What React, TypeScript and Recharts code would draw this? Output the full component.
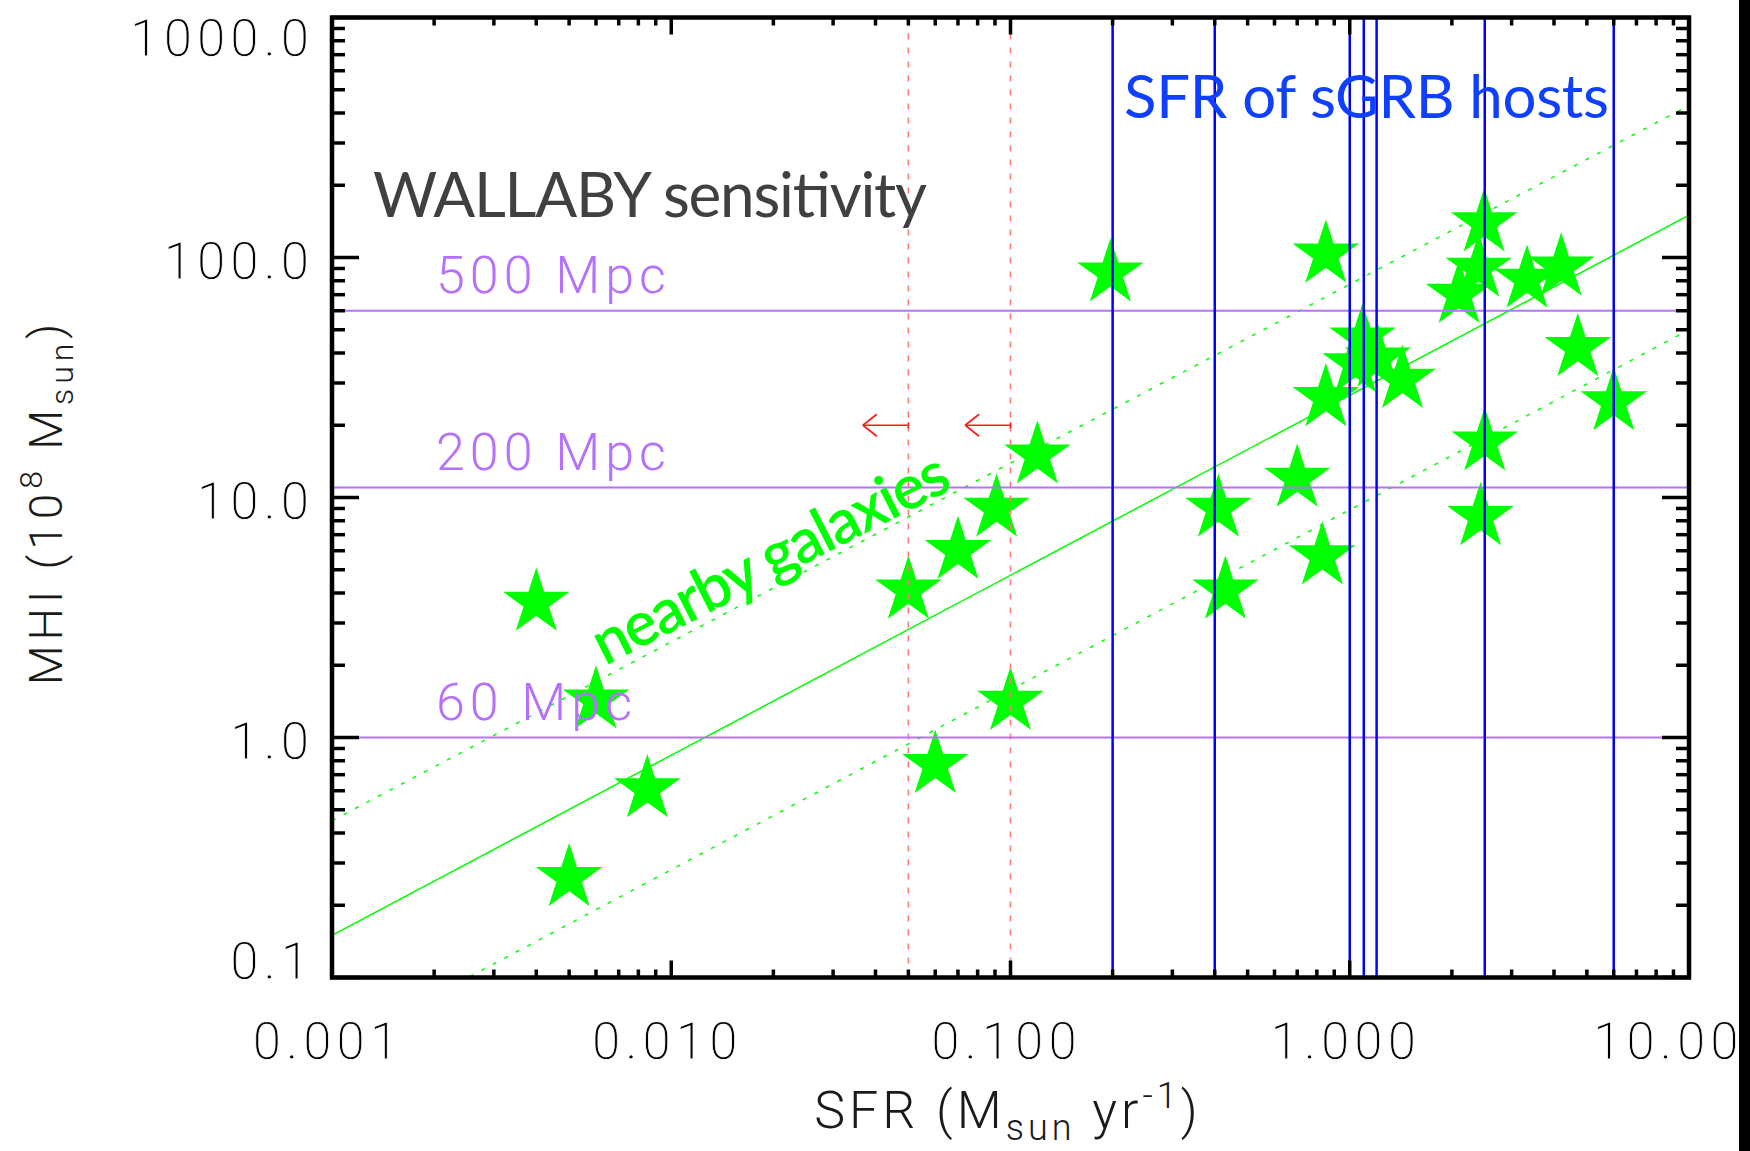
import React from "react";
import { ScatterChart, Scatter, XAxis, YAxis, ReferenceLine } from "recharts";

const W = 1750;
const H = 1151;
const PLOT_LEFT = 332;
const PLOT_TOP = 17.5;
const PLOT_RIGHT = 1689;
const PLOT_BOTTOM = 977.5;
const PLOT_W = PLOT_RIGHT - PLOT_LEFT;
const PLOT_H = PLOT_BOTTOM - PLOT_TOP;

// axes
const xMajor = [0.001, 0.01, 0.1, 1, 10];
const xTickLabels = ["0.001", "0.010", "0.100", "1.000", "10.000"];
const yMajor = [0.1, 1, 10, 100, 1000];
const yTickLabels = ["0.1", "1.0", "10.0", "100.0", "1000.0"];

// nearby galaxies (SFR in Msun/yr, MHI in 1e8 Msun)
const galaxySfr = [
  0.004, 0.006, 0.0085, 0.005, 0.05, 0.07, 0.091, 0.12, 0.1, 0.06,
  0.197, 0.41, 0.43, 0.7, 0.83, 0.85, 0.85, 1.09, 1.04, 1.21,
  1.43, 2.1, 2.4, 2.49, 3.33, 4.2, 4.7, 6.0, 2.5, 2.43,
];
const galaxyMhi = [
  3.65, 1.43, 0.61, 0.26, 4.1, 6.0, 9.0, 15.0, 1.41, 0.77,
  86, 9.0, 4.1, 12.0, 5.7, 26, 103, 46, 36, 38,
  31, 70, 90, 139, 81, 91, 42, 25, 17, 8.3,
];

// SFR of short GRB hosts
const sgrbHostSfr = [0.2, 0.4, 1.0, 1.1, 1.2, 2.5, 6.0];

// WALLABY sensitivity limits
const sensitivityMhi = [60, 11, 1.0];
const sensitivityLabels = ["500 Mpc", "200 Mpc", "60 Mpc"];

// upper limits
const limitSfr = [0.05, 0.1];
const limitArrowTip = [0.0367, 0.0735];
const limitArrowMhi = 20;

// scaling relation and its scatter
const fitSfr = [0.001, 10];
const fitMid = [0.15, 150];
const fitUpper = [0.45, 430];
const fitLower = [0.05, 50];

const decadeTicks = (major: number[]) => {
  const out: number[] = [];
  for (let i = 0; i < major.length - 1; i++) {
    for (let k = 1; k <= 9; k++) out.push(k * major[i]);
  }
  out.push(major[major.length - 1]);
  return out;
};

const majorIndex = (major: number[], v: number) =>
  major.findIndex((m) => Math.abs(Math.log10(m) - Math.log10(v)) < 1e-6);

const TICK_FONT = "Roboto, 'DejaVu Sans', sans-serif";
// thin the glyphs a little with a white outline painted over the fill
const thin = { stroke: "#fff", strokeWidth: 0.8 };

// bottom ticks, mirrored onto the top border
const XTick = (props: any) => {
  const { x, y, payload } = props;
  const i = majorIndex(xMajor, payload.value);
  const len = i >= 0 ? 17 : 8;
  return (
    <g>
      <line x1={x} y1={y} x2={x} y2={y - len} stroke="#000" strokeWidth={3.5} />
      <line x1={x} y1={y - PLOT_H} x2={x} y2={y - PLOT_H + len} stroke="#000" strokeWidth={3.5} />
      {i >= 0 && (
        <text x={x - 4} y={y + 81} textAnchor="middle" fontFamily={TICK_FONT} fontWeight={300}
          fontSize={51} letterSpacing={5} fill="#000" {...thin}>
          {xTickLabels[i]}
        </text>
      )}
    </g>
  );
};

// left ticks, mirrored onto the right border
const YTick = (props: any) => {
  const { x, y, payload } = props;
  const i = majorIndex(yMajor, payload.value);
  const len = i >= 0 ? 27 : 13;
  let dy = 21;
  if (i === yMajor.length - 1) dy = 38;
  if (i === 0) dy = 1;
  return (
    <g>
      <line x1={x} y1={y} x2={x + len} y2={y} stroke="#000" strokeWidth={3.5} />
      <line x1={x + PLOT_W - len} y1={y} x2={x + PLOT_W} y2={y} stroke="#000" strokeWidth={3.5} />
      {i >= 0 && (
        <text x={x - 18} y={y + dy} textAnchor="end" fontFamily={TICK_FONT} fontWeight={300}
          fontSize={51} letterSpacing={5} fill="#000" {...thin}>
          {yTickLabels[i]}
        </text>
      )}
    </g>
  );
};

const StarShape = (props: any) => {
  const { cx, cy } = props;
  if (cx == null || cy == null) return null;
  const R = 35;
  const r = R * 0.382;
  const pts: string[] = [];
  for (let k = 0; k < 10; k++) {
    const a = -Math.PI / 2 + (k * Math.PI) / 5;
    const rad = k % 2 === 0 ? R : r;
    pts.push(`${cx + rad * Math.cos(a)},${cy + rad * Math.sin(a)}`);
  }
  return <polygon points={pts.join(" ")} fill="#00ff00" />;
};

const ArrowShape = (props: any) => {
  const { x1, y1, x2, y2 } = props;
  if (x1 == null) return null;
  return (
    <g stroke="#ff1a1a" strokeWidth={1.6} fill="none">
      <line x1={x1} y1={y1} x2={x2} y2={y2} />
      <line x1={x1} y1={y1 - 3} x2={x1} y2={y1 + 3} />
      <line x1={x2} y1={y2} x2={x2 + 14} y2={y2 - 11} />
      <line x1={x2} y1={y2} x2={x2 + 14} y2={y2 + 11} />
    </g>
  );
};

const MpcLabel = (props: any) => {
  const vb = props.viewBox || { x: PLOT_LEFT, y: 0 };
  return (
    <text x={vb.x + 104} y={vb.y - 18} fontFamily={TICK_FONT} fontWeight={300} fontSize={52}
      letterSpacing={5} fill="#b570ff">
      {props.text}
    </text>
  );
};

const galaxies = galaxySfr.map((s, i) => ({ sfr: s, mhi: galaxyMhi[i] }));
const seg = (y: number[]) => [
  { x: fitSfr[0], y: y[0] },
  { x: fitSfr[1], y: y[1] },
];

export default function App() {
  return (
    <div style={{ position: "relative", width: W, height: H, background: "#fff", overflow: "hidden" }}>
      <style>{`html,body{margin:0;overflow:hidden}`}</style>
      <ScatterChart width={W} height={H}
        margin={{ top: PLOT_TOP, right: W - PLOT_RIGHT, bottom: H - PLOT_BOTTOM - 1, left: PLOT_LEFT - 1 }}>
        <XAxis dataKey="sfr" type="number" scale="log" domain={[0.001, 10]} allowDataOverflow
          ticks={decadeTicks(xMajor)} interval={0} height={1} tickSize={0} tickMargin={0}
          tickLine={false} axisLine={false} tick={<XTick />} />
        <YAxis dataKey="mhi" type="number" scale="log" domain={[0.1, 1000]} allowDataOverflow
          ticks={decadeTicks(yMajor)} interval={0} width={1} tickSize={0} tickMargin={0}
          tickLine={false} axisLine={false} tick={<YTick />} />
        <Scatter data={galaxies} isAnimationActive={false} shape={StarShape} />
        <ReferenceLine segment={seg(fitMid)} ifOverflow="hidden" stroke="#00ff00" strokeWidth={1.5} zIndex={700} />
        <ReferenceLine segment={seg(fitUpper)} ifOverflow="hidden" stroke="#00ff00" strokeWidth={1.5}
          strokeDasharray="4 9" zIndex={700} />
        <ReferenceLine segment={seg(fitLower)} ifOverflow="hidden" stroke="#00ff00" strokeWidth={1.5}
          strokeDasharray="4 9" zIndex={700} />
        {limitSfr.map((s) => (
          <ReferenceLine key={`l${s}`} x={s} stroke="#ff7878" strokeWidth={1.6} strokeDasharray="6 8" zIndex={700} />
        ))}
        {limitSfr.map((s, i) => (
          <ReferenceLine key={`a${s}`} segment={[{ x: s, y: limitArrowMhi }, { x: limitArrowTip[i], y: limitArrowMhi }]}
            shape={ArrowShape} zIndex={700} />
        ))}
        {sensitivityMhi.map((m, i) => (
          <ReferenceLine key={`s${m}`} y={m} stroke="#b574f7" strokeWidth={2} zIndex={700}
            label={<MpcLabel text={sensitivityLabels[i]} />} />
        ))}
        {sgrbHostSfr.map((s) => (
          <ReferenceLine key={`h${s}`} x={s} stroke="#0000ff" strokeWidth={2.5} zIndex={700} />
        ))}
      </ScatterChart>
      <svg width={W} height={H} style={{ position: "absolute", left: 0, top: 0, pointerEvents: "none" }}>
        <rect x={PLOT_LEFT} y={PLOT_TOP} width={PLOT_W} height={PLOT_H} fill="none" stroke="#000" strokeWidth={4.5} />
        <text x={373} y={217} fontFamily="Lato, 'Open Sans', sans-serif" fontSize={62} fill="#404040"
          textLength={554}>WALLABY sensitivity</text>
        <text x={1124} y={118} fontFamily="Lato, 'Open Sans', sans-serif" fontSize={60} fill="#1040ff"
          textLength={485}>SFR of sGRB hosts</text>
        <text transform="translate(605,666) rotate(-27)" fontFamily="Lato, 'Open Sans', sans-serif"
          fontSize={62} fontWeight={600} fill="#00ff00" textLength={392}>nearby galaxies</text>
        <text x={1008} y={1128} textAnchor="middle" fontFamily={TICK_FONT} fontWeight={300} fontSize={52}
          letterSpacing={4} fill="#1a1a1a">
          SFR (M<tspan fontSize={36} dy={12}>sun</tspan>
          <tspan dy={-12}> yr</tspan>
          <tspan fontSize={36} dy={-20}>-1</tspan>
          <tspan dy={20}>)</tspan>
        </text>
        <text transform="translate(62,502) rotate(-90)" textAnchor="middle" fontFamily={TICK_FONT}
          fontWeight={300} fontSize={46} letterSpacing={5} fill="#1a1a1a">
          MHI  (10<tspan fontSize={32} dy={-20}>8</tspan>
          <tspan dy={20}> M</tspan>
          <tspan fontSize={32} dy={11}>sun</tspan>
          <tspan dy={-11}>)</tspan>
        </text>
        <rect x={1739} y={0} width={11} height={H} fill="#000" />
      </svg>
    </div>
  );
}
